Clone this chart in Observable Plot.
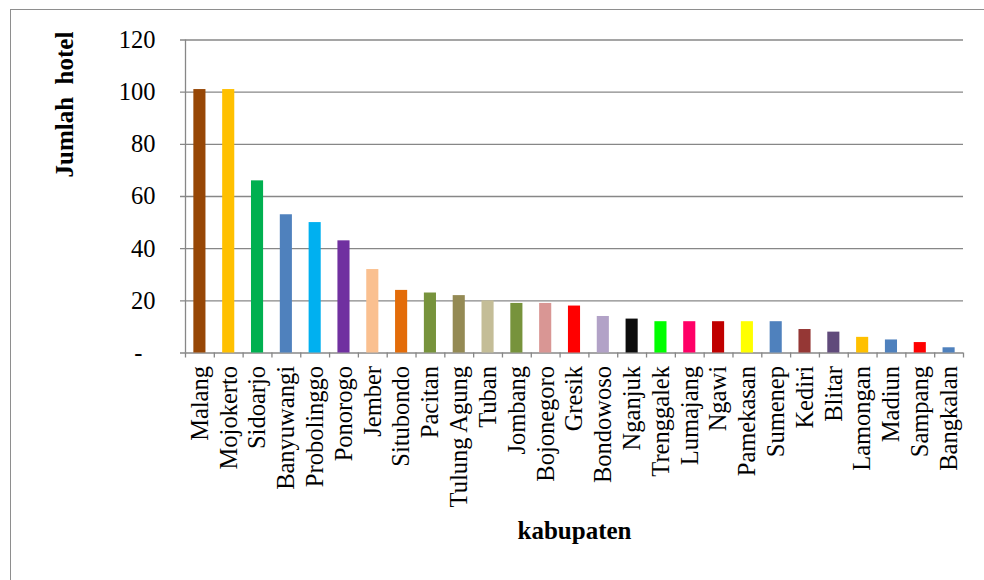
<!DOCTYPE html>
<html>
<head>
<meta charset="utf-8">
<script src="https://cdn.jsdelivr.net/npm/d3@7"></script>
<script src="https://cdn.jsdelivr.net/npm/@observablehq/plot@0.6"></script>
<style>
  html, body { margin: 0; padding: 0; background: #fff; }
  #wrap { position: relative; width: 984px; height: 580px; overflow: hidden; background: #fff; }
  #box { position: absolute; left: 10px; top: 9px; width: 1200px; height: 800px;
         border-left: 1px solid #8e8e8e; border-top: 1px solid #8e8e8e; pointer-events: none; }
  #chart { position: absolute; left: 0; top: 0; }
</style>
</head>
<body>
<div id="wrap"><div id="chart"></div><div id="box"></div></div>
<script>
// Number of hotels per regency (kabupaten), East Java
const districts = [
  "Malang", "Mojokerto", "Sidoarjo", "Banyuwangi", "Probolinggo", "Ponorogo",
  "Jember", "Situbondo", "Pacitan", "Tulung Agung", "Tuban", "Jombang",
  "Bojonegoro", "Gresik", "Bondowoso", "Nganjuk", "Trenggalek", "Lumajang",
  "Ngawi", "Pamekasan", "Sumenep", "Kediri", "Blitar", "Lamongan",
  "Madiun", "Sampang", "Bangkalan"
];
const hotels = [
  101, 101, 66, 53, 50, 43,
  32, 24, 23, 22, 20, 19,
  19, 18, 14, 13, 12, 12,
  12, 12, 12, 9, 8, 6,
  5, 4, 2
];
const barColors = [
  "#974706", "#ffc000", "#00b050", "#4f81bd", "#00b0f0", "#7030a0",
  "#fac090", "#e36c09", "#77933c", "#948a54", "#c4bd97", "#77933c",
  "#d99694", "#ff0000", "#b2a2c7", "#0d0d0d", "#00ff00", "#ff0066",
  "#c00000", "#ffff00", "#4f81bd", "#953735", "#604a7b", "#ffc000",
  "#4f81bd", "#ff0000", "#4f81bd"
];
const yTicks = [20, 40, 60, 80, 100, 120];
const yTitle = "Jumlah  hotel";
const xTitle = "kabupaten";

const rows = districts.map((name, i) => ({name, value: hotels[i], color: barColors[i]}));

const W = 984, H = 580;
const mL = 185, mR = 21, mT = 39.5, mB = 227.5;
const step = (W - mL - mR) / districts.length;
const gray = "#878787";
const serif = "'Times New Roman', 'Liberation Serif', serif";

const chart = Plot.plot({
  width: W,
  height: H,
  marginLeft: mL,
  marginRight: mR,
  marginTop: mT,
  marginBottom: mB,
  style: {fontFamily: serif, fontSize: "24px", color: "#000", background: "#fff"},
  x: {domain: districts, paddingInner: 0.58, paddingOuter: 0.29, round: false, label: null},
  y: {domain: [0, 120], label: null},
  color: {type: "identity"},
  marks: [
    // horizontal gridlines, each reaching out as a short tick left of the axis
    Plot.ruleY([0, ...yTicks], {stroke: gray, strokeWidth: 1.3, insetLeft: -5}),
    // vertical axis line
    Plot.ruleX([districts[0]], {y1: 0, y2: 120, dx: -step / 2, stroke: gray, strokeWidth: 1.3}),
    // category separators below the baseline
    Plot.ruleX(districts, {x: d => d, y1: 0, y2: 0, insetBottom: -5, dx: -step / 2, stroke: gray, strokeWidth: 1.3}),
    Plot.ruleX([districts[districts.length - 1]], {y1: 0, y2: 0, insetBottom: -5, dx: step / 2, stroke: gray, strokeWidth: 1.3}),
    Plot.barY(rows, {x: "name", y: "value", fill: "color"}),
    Plot.axisY({ticks: yTicks, tickSize: 0, tickPadding: 30, fontSize: 24.5, fontFamily: serif, fill: "#000"}),
    Plot.axisY({ticks: [0], tickSize: 0, tickPadding: 43, tickFormat: () => "-", fontSize: 24.5, fontFamily: serif, fill: "#000"}),
    Plot.axisX({tickSize: 0, tickPadding: 13, tickRotate: -90, fontSize: 24.5, fontFamily: serif, fill: "#000"}),
    Plot.text([yTitle], {frameAnchor: "left", dx: -121, dy: -19, rotate: -90, fontFamily: serif,
      fontSize: 25, fontWeight: "bold", fill: "#000", style: "white-space: pre"}),
    Plot.text([xTitle], {frameAnchor: "bottom", dy: 186, fontSize: 25, fontFamily: serif, fontWeight: "bold", fill: "#000"})
  ]
});
document.getElementById("chart").appendChild(chart);
</script>
</body>
</html>
